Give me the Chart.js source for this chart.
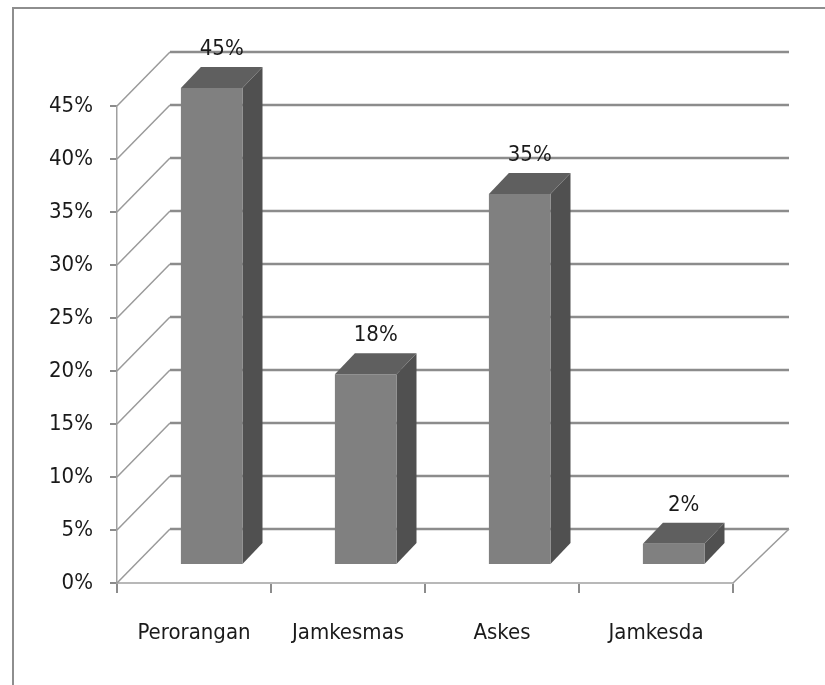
<!DOCTYPE html>
<html>
<head>
<meta charset="utf-8">
<script src="https://cdn.jsdelivr.net/npm/chart.js@4.4.1/dist/chart.umd.min.js"></script>
<style>
  html, body { margin: 0; padding: 0; background: #ffffff; }
  #wrap { width: 825px; height: 685px; position: relative; }
</style>
</head>
<body>
<div id="wrap"><canvas id="c" width="825" height="685"></canvas></div>
<script>
// ---- data ----
const categories = ["Perorangan", "Jamkesmas", "Askes", "Jamkesda"];
const percentValues = [45, 18, 35, 2];
const dataLabels = ["45%", "18%", "35%", "2%"];
const yTickValues = [0, 5, 10, 15, 20, 25, 30, 35, 40, 45];

// ---- style ----
const FONT = '"Liberation Sans Narrow", "DejaVu Sans Condensed", "Roboto Condensed", "Liberation Sans", sans-serif';
const GRID = '#8c8c8c';
const DIAG = '#9a9a9a';
const WALL_D = { dx: 53, dy: -54 };     // depth of the chart box
const BAR_OFF = { dx: 17.7, dy: -18 };  // bar front face offset in depth
const BAR_D = { dx: 20, dy: -21 };      // bar depth

const threeD = {
  id: 'threeD',
  beforeDraw(chart) {
    const ctx = chart.ctx;
    ctx.save();
    ctx.strokeStyle = '#8e8e8e';
    ctx.lineWidth = 2;
    ctx.strokeRect(13, 8, 900, 900);
    ctx.restore();
  },
  beforeDatasetsDraw(chart) {
    const ctx = chart.ctx;
    const y = chart.scales.y, x = chart.scales.x;
    const left = x.left, right = x.right;
    ctx.save();
    yTickValues.forEach(v => {
      const py = y.getPixelForValue(v);
      ctx.strokeStyle = DIAG;
      ctx.lineWidth = 1.5;
      ctx.beginPath();
      ctx.moveTo(left, py);
      ctx.lineTo(left + WALL_D.dx, py + WALL_D.dy);
      ctx.stroke();
      ctx.strokeStyle = GRID;
      ctx.lineWidth = 2.5;
      ctx.beginPath();
      ctx.moveTo(left + WALL_D.dx, py + WALL_D.dy);
      ctx.lineTo(right + WALL_D.dx + 3, py + WALL_D.dy);
      ctx.stroke();
    });
    const p0 = y.getPixelForValue(0);
    ctx.strokeStyle = DIAG;
    ctx.lineWidth = 1.5;
    ctx.beginPath();
    ctx.moveTo(right, p0);
    ctx.lineTo(right + WALL_D.dx + 3, p0 + WALL_D.dy);
    ctx.stroke();
    ctx.restore();
  },
  afterDatasetsDraw(chart) {
    const ctx = chart.ctx;
    const meta = chart.getDatasetMeta(0);
    ctx.save();
    meta.data.forEach((bar, i) => {
      const w = bar.width;
      const x0 = bar.x - w / 2 + BAR_OFF.dx;
      const x1 = bar.x + w / 2 + BAR_OFF.dx;
      const yt = bar.y + BAR_OFF.dy;
      const yb = bar.base + BAR_OFF.dy;
      ctx.fillStyle = '#505050';
      ctx.beginPath();
      ctx.moveTo(x1, yt);
      ctx.lineTo(x1 + BAR_D.dx, yt + BAR_D.dy);
      ctx.lineTo(x1 + BAR_D.dx, yb + BAR_D.dy);
      ctx.lineTo(x1, yb);
      ctx.closePath();
      ctx.fill();
      ctx.fillStyle = '#5f5f5f';
      ctx.beginPath();
      ctx.moveTo(x0, yt);
      ctx.lineTo(x0 + BAR_D.dx, yt + BAR_D.dy);
      ctx.lineTo(x1 + BAR_D.dx, yt + BAR_D.dy);
      ctx.lineTo(x1, yt);
      ctx.closePath();
      ctx.fill();
      ctx.fillStyle = '#808080';
      ctx.fillRect(x0, yt, x1 - x0, yb - yt);
      ctx.fillStyle = '#1a1a1a';
      ctx.font = '22px ' + FONT;
      ctx.textAlign = 'center';
      ctx.textBaseline = 'middle';
      ctx.fillText(dataLabels[i], bar.x + BAR_OFF.dx + BAR_D.dx / 2, yt + BAR_D.dy - 18);
    });
    ctx.restore();
  }
};

new Chart(document.getElementById('c'), {
  type: 'bar',
  data: {
    labels: categories,
    datasets: [{
      data: percentValues,
      backgroundColor: 'rgba(0,0,0,0)',
      borderWidth: 0,
      barPercentage: 0.4,
      categoryPercentage: 1.0
    }]
  },
  options: {
    responsive: false,
    animation: false,
    events: [],
    layout: { padding: { top: 106, right: 92, left: 0, bottom: 0 } },
    plugins: { legend: { display: false }, tooltip: { enabled: false } },
    scales: {
      x: {
        offset: true,
        grid: { offset: true, drawOnChartArea: false, drawTicks: true, tickLength: 10, color: GRID, lineWidth: 2 },
        border: { display: true, color: '#b8b8b8', width: 2 },
        ticks: { color: '#1a1a1a', font: { family: FONT, size: 22 }, padding: 27, maxRotation: 0 },
        afterFit(scale) { scale.height = 102; }
      },
      y: {
        min: 0, max: 45,
        afterBuildTicks(scale) { scale.ticks = yTickValues.map(v => ({ value: v })); },
        grid: { drawOnChartArea: false, drawTicks: true, tickLength: 7, color: GRID, lineWidth: 2 },
        border: { display: true, color: '#a0a0a0', width: 1.5 },
        ticks: { color: '#1a1a1a', font: { family: FONT, size: 22 }, padding: 17, callback: v => v + '%' },
        afterFit(scale) { scale.width = 117; }
      }
    }
  },
  plugins: [threeD]
});
</script>
</body>
</html>
